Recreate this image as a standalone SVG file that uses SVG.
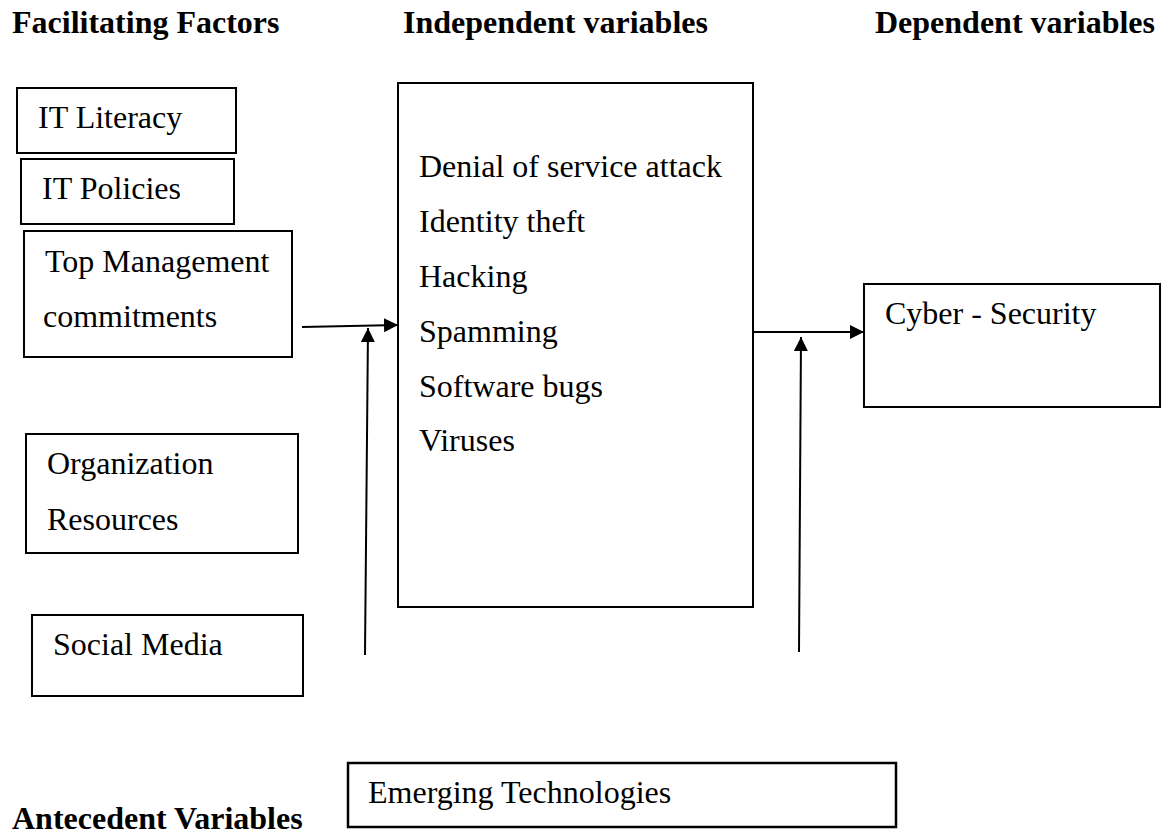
<svg xmlns="http://www.w3.org/2000/svg" width="1163" height="835" viewBox="0 0 1163 835">
<style>
  .box{fill:#fff;stroke:#000;stroke-width:2}
  .t{font-family:"Liberation Serif","Times New Roman",serif;font-size:32px;fill:#000}
  .h{font-family:"Liberation Serif","Times New Roman",serif;font-size:32px;font-weight:bold;fill:#000}
  .c{fill:none;stroke:#000;stroke-width:2}
</style>
<defs>
  <marker id="ah" markerUnits="userSpaceOnUse" markerWidth="14" markerHeight="14" refX="14" refY="7" orient="auto">
    <path d="M0,0 L14,7 L0,14 Z" fill="#000"/>
  </marker>
</defs>
<rect width="1163" height="835" fill="#fff"/>
<g id="headers">
  <text class="h" x="12" y="33">Facilitating Factors</text>
  <text class="h" x="403" y="33">Independent variables</text>
  <text class="h" x="875" y="33">Dependent variables</text>
  <text class="h" x="12" y="829">Antecedent Variables</text>
</g>
<g id="it-literacy">
  <rect class="box" x="17" y="88" width="219" height="65"/>
  <text class="t" x="38" y="128">IT Literacy</text>
</g>
<g id="it-policies">
  <rect class="box" x="21" y="159" width="213" height="65"/>
  <text class="t" x="42" y="199">IT Policies</text>
</g>
<g id="top-management">
  <rect class="box" x="24" y="231" width="268" height="126"/>
  <text class="t" x="45" y="272">Top Management</text>
  <text class="t" x="43" y="327">commitments</text>
</g>
<g id="organization-resources">
  <rect class="box" x="26" y="434" width="272" height="119"/>
  <text class="t" x="47" y="474">Organization</text>
  <text class="t" x="47" y="530">Resources</text>
</g>
<g id="social-media">
  <rect class="box" x="32" y="615" width="271" height="81"/>
  <text class="t" x="53" y="655">Social Media</text>
</g>
<g id="independent-variables">
  <rect class="box" x="398" y="83" width="355" height="524"/>
  <text class="t" x="419" y="177">Denial of service attack</text>
  <text class="t" x="419" y="232">Identity theft</text>
  <text class="t" x="419" y="287">Hacking</text>
  <text class="t" x="419" y="342">Spamming</text>
  <text class="t" x="419" y="397">Software bugs</text>
  <text class="t" x="419" y="451">Viruses</text>
</g>
<g id="cyber-security">
  <rect class="box" x="864" y="284" width="296" height="123"/>
  <text class="t" x="885" y="324">Cyber - Security</text>
</g>
<g id="emerging-technologies">
  <rect class="box" x="348" y="763" width="548" height="64" style="stroke-width:2.5"/>
  <text class="t" x="368" y="803">Emerging Technologies</text>
</g>
<g id="connectors">
  <line class="c" x1="302" y1="327" x2="398" y2="325" marker-end="url(#ah)"/>
  <line class="c" x1="365" y1="655" x2="368" y2="328" marker-end="url(#ah)"/>
  <line class="c" x1="752" y1="332" x2="864" y2="332" marker-end="url(#ah)"/>
  <line class="c" x1="799" y1="652" x2="801" y2="337" marker-end="url(#ah)"/>
</g>
</svg>
